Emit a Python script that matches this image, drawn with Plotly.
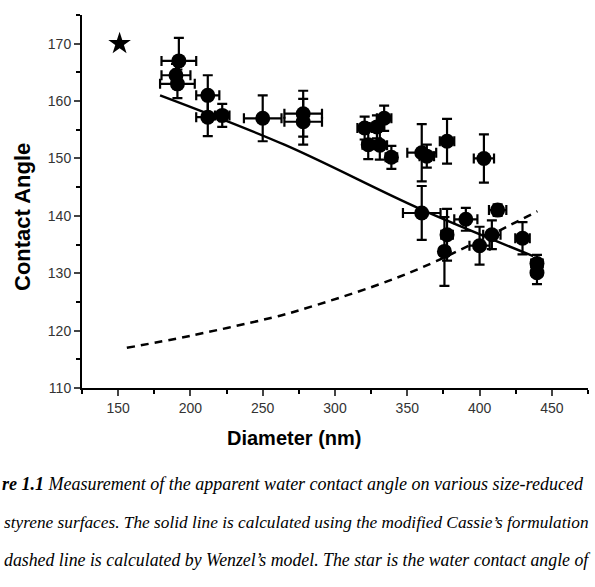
import plotly.graph_objects as go

# ---- data ----
diam = [192, 190, 191, 212, 212, 222, 250, 278, 278, 320.5, 334, 329, 323, 331, 339,
        360, 363.5, 377.5, 403, 412.5, 360, 390.5, 377.5, 375.7, 400, 408.5, 429.7, 439.7, 439.7]
angle = [167, 164.5, 163, 161, 157.2, 157.5, 157, 157.8, 156.4, 155.3, 157, 155.5, 152.4, 152.3, 150.2,
         151, 150.4, 153, 150, 141, 140.5, 139.4, 136.7, 133.8, 134.8, 136.7, 136.1, 131.7, 130.1]
diam_err = [12, 10, 12, 8, 8, 5, 13, 13, 13, 5, 5, 5, 4, 5, 4,
            10, 5, 5, 7, 6, 13, 8, 4, 3, 7, 6, 5, 4, 3]
angle_err = [4, 2, 2.5, 3.5, 3.3, 2, 4, 4, 4, 2, 2.2, 2, 2.5, 2.5, 2,
             5, 2, 3.9, 4.2, 1, 4.7, 2, 4.5, 6, 3.3, 2.5, 2.8, 1.5, 2]

star_x = [151]
star_y = [170]

cassie_x = [179, 265, 358, 437]
cassie_y = [161, 152.4, 141.3, 133]

wenzel_x = [156, 200, 262, 276, 331, 370, 440]
wenzel_y = [117, 119.1, 122.6, 123.6, 128.1, 132.1, 140.8]

x_ticks = [150, 200, 250, 300, 350, 400, 450]
y_ticks = [110, 120, 130, 140, 150, 160, 170]

# caption lines of the (cropped) page: (text, x pixel, y pixel, font size)
caption_lines = [
    ("<b>re 1.1</b> Measurement of the apparent water contact angle on various size-reduced", 0, 484, 18),
    ("styrene surfaces. The solid line is calculated using the modified Cassie\u2019s formulation", 2, 522, 17.3),
    ("dashed line is calculated by Wenzel\u2019s model. The star is the water contact angle of", 2, 560, 17.8),
]

# ---- layout geometry ----
W, H = 595, 587
L, R, T, B = 82, 7, 15, 199
pw, ph = W - L - R, H - T - B


def px(x):
    return (x - L) / pw


def py(y):
    return (H - B - y) / ph


fig = go.Figure()

fig.add_trace(go.Scatter(
    x=wenzel_x, y=wenzel_y, mode="lines", line=dict(color="black", width=2.5, dash="8px,6px", shape="spline"),
    hoverinfo="skip", showlegend=False))
fig.add_trace(go.Scatter(
    x=cassie_x, y=cassie_y, mode="lines", line=dict(color="black", width=2.4, shape="spline"),
    hoverinfo="skip", showlegend=False))
fig.add_trace(go.Scatter(
    x=diam, y=angle, mode="markers",
    marker=dict(symbol="circle", size=15, color="black"),
    error_x=dict(type="data", array=diam_err, color="black", thickness=2.2, width=5),
    error_y=dict(type="data", array=angle_err, color="black", thickness=2.2, width=5),
    showlegend=False))
fig.add_trace(go.Scatter(
    x=star_x, y=star_y, mode="markers",
    marker=dict(symbol="star", size=17, color="black"), showlegend=False))

tickfont = dict(family="Arial, Liberation Sans", size=14, color="#333")
fig.update_xaxes(range=[125, 475], tickvals=x_ticks, ticks="outside", ticklen=6, tickwidth=2,
                 showline=True, linecolor="black", linewidth=2, showgrid=False, zeroline=False,
                 tickfont=tickfont, minor=dict(dtick=25, tick0=125, ticks="outside", ticklen=4, tickwidth=2,
                                               tickcolor="black", showgrid=False))
fig.update_yaxes(range=[110, 175], tickvals=y_ticks, ticks="outside", ticklen=6, tickwidth=2,
                 showline=True, linecolor="black", linewidth=2, showgrid=False, zeroline=False,
                 tickfont=tickfont, minor=dict(dtick=5, tick0=110, ticks="outside", ticklen=4, tickwidth=2,
                                               tickcolor="black", showgrid=False))

ann = [
    dict(text="<b>Diameter (nm)</b>", x=px(294), y=py(438), xref="paper", yref="paper",
         xanchor="center", yanchor="middle",
         showarrow=False, font=dict(family="Arial, Liberation Sans", size=20, color="black")),
    dict(text="<b>Contact Angle</b>", x=px(22), y=py(217), xref="paper", yref="paper", textangle=-90,
         xanchor="center", yanchor="middle",
         showarrow=False, font=dict(family="Arial, Liberation Sans", size=22, color="black")),
]
for text, xpix, ypix, fsize in caption_lines:
    ann.append(dict(text="<i>" + text + "</i>", x=px(xpix), y=py(ypix), xref="paper", yref="paper",
                    xanchor="left", yanchor="middle", showarrow=False,
                    font=dict(family="Liberation Serif, Times New Roman", size=fsize, color="black")))

fig.update_layout(width=W, height=H, margin=dict(l=L, r=R, t=T, b=B),
                  plot_bgcolor="white", paper_bgcolor="white", annotations=ann)

fig.write_html("out.html")
